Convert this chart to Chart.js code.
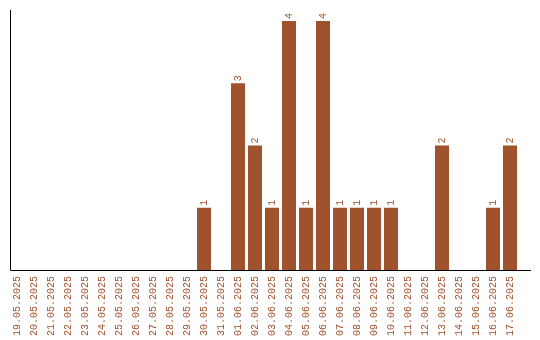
<!DOCTYPE html>
<html>
<head>
<meta charset="utf-8">
<script src="https://cdn.jsdelivr.net/npm/chart.js@4/dist/chart.umd.min.js"></script>
<style>
  html, body { margin: 0; padding: 0; background: #fff; }
  #wrap { width: 540px; height: 340px; }
</style>
</head>
<body>
<div id="wrap"><canvas id="myBarChart"></canvas></div>
<script>
// data
var dates = [
  '19.05.2025', '20.05.2025', '21.05.2025', '22.05.2025', '23.05.2025',
  '24.05.2025', '25.05.2025', '26.05.2025', '27.05.2025', '28.05.2025',
  '29.05.2025', '30.05.2025', '31.05.2025', '01.06.2025', '02.06.2025',
  '03.06.2025', '04.06.2025', '05.06.2025', '06.06.2025', '07.06.2025',
  '08.06.2025', '09.06.2025', '10.06.2025', '11.06.2025', '12.06.2025',
  '13.06.2025', '14.06.2025', '15.06.2025', '16.06.2025', '17.06.2025'
];
var counts = [
  0, 0, 0, 0, 0,
  0, 0, 0, 0, 0,
  0, 1, 0, 3, 2,
  1, 4, 1, 4, 1,
  1, 1, 1, 0, 0,
  2, 0, 0, 1, 2
];

var barColor = '#a0522d';
var monoFont = "'Liberation Mono', 'DejaVu Sans Mono', monospace";

// draws the axis lines and the rotated value labels
var axisAndLabels = {
  id: 'axisAndLabels',
  afterDatasetsDraw: function(chart) {
    var ctx = chart.ctx;
    ctx.save();
    ctx.strokeStyle = '#000';
    ctx.lineWidth = 1;
    ctx.beginPath();
    ctx.moveTo(10.5, 10);
    ctx.lineTo(10.5, 270.5);
    ctx.lineTo(531, 270.5);
    ctx.stroke();

    var meta = chart.getDatasetMeta(0);
    ctx.fillStyle = barColor;
    ctx.font = '10px ' + monoFont;
    ctx.textAlign = 'left';
    ctx.textBaseline = 'middle';
    meta.data.forEach(function(bar, i) {
      if (!counts[i]) return;
      ctx.save();
      ctx.translate(bar.x, bar.y - 2);
      ctx.rotate(-Math.PI / 2);
      ctx.fillText(String(counts[i]), 0, 0);
      ctx.restore();
    });
    ctx.restore();
  }
};

window.onload = function() {
  var ctx = document.getElementById('myBarChart').getContext('2d');
  var myBarChart = new Chart(ctx, {
    type: 'bar',
    data: {
      labels: dates,
      datasets: [{
        data: counts,
        backgroundColor: barColor,
        borderWidth: 0,
        barPercentage: 14 / 17,
        categoryPercentage: 1
      }]
    },
    options: {
      responsive: true,
      maintainAspectRatio: false,
      animation: false,
      layout: {
        padding: { left: 8.5, right: 21.5, top: 21, bottom: 0 }
      },
      plugins: {
        legend: { display: false },
        tooltip: { enabled: false }
      },
      scales: {
        x: {
          grid: { display: false },
          border: { display: false },
          afterFit: function(scale) { scale.height = 70; },
          ticks: {
            color: barColor,
            font: { family: monoFont, size: 10 },
            minRotation: 90,
            maxRotation: 90,
            autoSkip: false,
            padding: -2
          }
        },
        y: {
          display: false,
          min: 0,
          max: 4
        }
      }
    },
    plugins: [axisAndLabels]
  });
};
</script>
</body>
</html>
